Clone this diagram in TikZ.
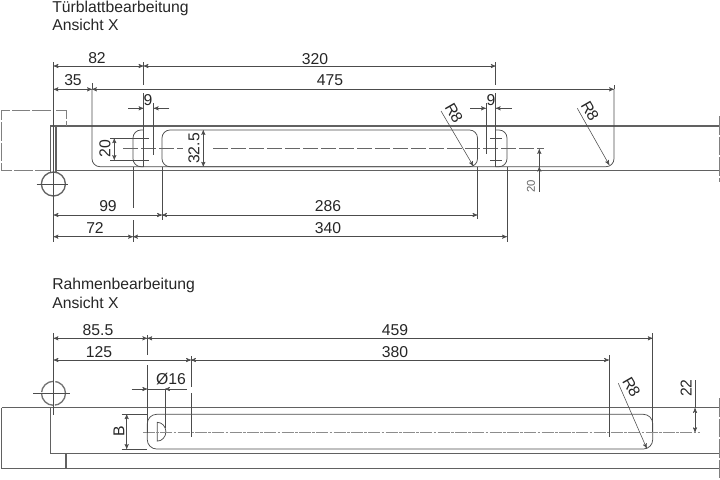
\documentclass[tikz,border=0pt]{standalone}
\usepackage{fontspec}
\setmainfont{Liberation Sans}
\usepackage{tikz}
\usetikzlibrary{arrows}
\definecolor{linegrey}{gray}{0.3}
\tikzset{every node/.style={inner sep=0pt,text=black!85,font=\fontsize{11.8}{14}\selectfont}}
\tikzset{body/.style={draw=black!62,line width=0.8pt}}
\tikzset{pocket/.style={draw=linegrey,line width=0.55pt}}
\tikzset{thin line/.style={draw=linegrey,line width=0.42pt}}
\tikzset{measure/.style={<->,thin line}}
\tikzset{pointer/.style={->,thin line}}
\tikzset{hidden/.style={draw=black!50,line width=0.75pt,dash pattern=on 14pt off 1.5pt}}
\tikzset{axis/.style={draw=black!60,line width=0.5pt,dash pattern=on 11pt off 2.5pt}}
\tikzset{centre/.style={draw=black!45,line width=0.7pt,dash pattern=on 9pt off 1pt on 2pt off 1pt}}
\begin{document}
\begin{tikzpicture}[>=stealth',x=0.75pt,y=-0.75pt]
  \useasboundingbox (0,0) rectangle (720,479);

  % titles
  \node[anchor=base west] (TitleDoor)  at (52,12)    {Türblattbearbeitung};
  \node[anchor=base west] (ViewDoor)   at (52,30.5)  {Ansicht X};
  \node[anchor=base west] (TitleFrame) at (52,289.5) {Rahmenbearbeitung};
  \node[anchor=base west] (ViewFrame)  at (52,308.5) {Ansicht X};

  % door leaf
  \draw[body] (56,126) -- (720,126);
  \draw[body] (56,170.7) -- (720,170.7);
  \draw[pocket,rounded corners=6pt] (92,89) -- (92,166.7) -- (614,166.7) -- (614,89);
  \draw[pocket,rounded corners=6pt] (143.5,130) -- (133,130) -- (133,166.7) -- (143.5,166.7);
  \draw[pocket,rounded corners=6pt] (162,130) -- (477.5,130) -- (477.5,166.7) -- (162,166.7) -- cycle;
  \draw[pocket,rounded corners=6pt] (495.7,130) -- (507,130) -- (507,166.7) -- (495.7,166.7);
  \draw[hidden] (56,110) -- (66,110) -- (66,126);
  \draw[hidden] (51,110) -- (1,110) -- (1,170.7) -- (51,170.7);
  \draw[hidden] (719.5,116) -- (719.5,182);
  \draw[body] (50.7,172) -- (50.7,126) -- (56,126) -- (56,172);
  \draw[draw=black!62,line width=1pt] (53.4,184) circle (12);
  \draw[thin line] (36.5,184) -- (68,184);

  % door leaf centre lines
  \draw[axis] (123,148.7) -- (183,148.7);
  \draw[axis] (213,148.7) -- (544,148.7);
  \draw[thin line] (110,138.3) -- (149,138.3);
  \draw[thin line] (110,160) -- (149,160);
  \draw[thin line] (490,138.3) -- (501.7,138.3);
  \draw[thin line] (490,160) -- (501.7,160);

  % door leaf extension lines
  \draw[thin line] (53.5,62) -- (53.5,241.7);
  \draw[thin line] (143.5,62) -- (143.5,85);
  \draw[thin line] (143.5,93) -- (143.5,166.7);
  \draw[thin line] (495.7,62) -- (495.7,85);
  \draw[thin line] (495.7,93) -- (495.7,166.7);
  \draw[thin line] (92,83) -- (92,89);
  \draw[thin line] (614,85) -- (614,89);
  \draw[thin line] (153.7,103) -- (153.7,155);
  \draw[thin line] (486,103) -- (486,154);
  \draw[thin line] (133,166.7) -- (133,208);
  \draw[thin line] (133,220) -- (133,241.7);
  \draw[thin line] (162,166.7) -- (162,220);
  \draw[thin line] (477.5,166.7) -- (477.5,219);
  \draw[thin line] (507,166.7) -- (507,241.7);

  % door leaf dimensions
  \path (53.5,66) edge [measure] (143.5,66)
        (143.5,66) edge [measure] (495.7,66)
        (53.5,89.3) edge [measure] (92,89.3)
        (92,89.3) edge [measure] (614,89.3)
        (53.5,215) edge [measure] (162,215)
        (162,215) edge [measure] (477.5,215)
        (53.5,236.7) edge [measure] (133,236.7)
        (133,236.7) edge [measure] (507,236.7)
        (114.3,138.3) edge [measure] (114.3,160)
        (203.3,130) edge [measure] (203.3,166.7);
  \path (128.3,108.3) edge [pointer] (143.5,108.3)
        (169.3,108.3) edge [pointer] (153.7,108.3)
        (470,108.3) edge [pointer] (486,108.3)
        (511.7,108.3) edge [pointer] (495.7,108.3)
        (441,111) edge [pointer] (473.3,166)
        (577.3,108.3) edge [pointer] (609.3,165)
        (539.3,166.7) edge [pointer] (539.3,149)
        (539.3,191.7) edge [pointer] (539.3,166.7);

  \node (DimA) at (97,58)   {82};
  \node (DimB) at (315,59.5) {320};
  \node (DimC) at (73,80)   {35};
  \node (DimD) at (330,80)  {475};
  \node (DimE) at (148,100.5) {9};
  \node (DimF) at (491,100.5) {9};
  \node (DimG) at (108,206) {99};
  \node (DimH) at (328,206) {286};
  \node (DimI) at (95,228)  {72};
  \node (DimJ) at (328,228) {340};
  \node[rotate=90] (DimK) at (105,148.5) {20};
  \node[rotate=90] (DimL) at (194,148.5) {32.5};
  \node[rotate=-60] (DimM) at (454,113) {R8};
  \node[rotate=-60] (DimN) at (590,111) {R8};
  \node[rotate=90,text=black!60,font=\fontsize{8.5}{10}\selectfont] (DimO) at (531,186) {20};

  % frame
  \draw[body] (1.5,407.7) -- (720,407.7);
  \draw[body] (1.5,407.7) -- (1.5,468.3) -- (720,468.3);
  \draw[body] (50.7,407.7) -- (50.7,453.3) -- (720,453.3);
  \draw[body] (66,453.3) -- (66,468.3);
  \draw[pocket,rounded corners=7pt] (147.3,414.3) rectangle (652.7,449);
  \draw[hidden] (719.5,398) -- (719.5,478);
  \draw[draw=black!55,line width=1pt,dash pattern=on 13pt off 1.5pt] (53.5,393.3) circle (12);
  \draw[thin line] (33,393.3) -- (70,393.3);
  \draw[pocket] (157.3,441.1) arc (90:-90:8.6 and 9.4) -- cycle;
  \draw[centre] (143,432.3) -- (700,432.3);

  % frame extension lines
  \draw[thin line] (53.5,333) -- (53.5,415);
  \draw[thin line] (147.3,335) -- (147.3,355);
  \draw[thin line] (147.3,365) -- (147.3,433);
  \draw[thin line] (191,356) -- (191,387);
  \draw[thin line] (191,393) -- (191,437);
  \draw[thin line] (609,355) -- (609,437);
  \draw[thin line] (652.7,333) -- (652.7,432);
  \draw[thin line] (165,389) -- (165,428);
  \draw[thin line] (121.7,414.3) -- (147.3,414.3);
  \draw[thin line] (121.7,449) -- (147.3,449);
  \draw[thin line] (695,380) -- (695,408);

  % frame dimensions
  \path (53.5,338.3) edge [measure] (147.3,338.3)
        (147.3,338.3) edge [measure] (652.7,338.3)
        (53.5,360) edge [measure] (191,360)
        (191,360) edge [measure] (609,360)
        (126.7,414.3) edge [measure] (126.7,449)
        (695,408) edge [measure] (695,432.3);
  \path (131.7,389) edge [pointer] (147.3,389)
        (186.7,389) edge [pointer] (165,389)
        (147.3,389) edge [thin line] (165,389)
        (618.3,383.3) edge [pointer] (646.7,448.3);

  \node (DimP) at (98,330)   {85.5};
  \node (DimQ) at (395,330)  {459};
  \node (DimR) at (99,352)   {125};
  \node (DimS) at (395,352)  {380};
  \node (DimT) at (171,379)  {Ø16};
  \node[rotate=90] (DimU) at (119,431) {B};
  \node[rotate=90] (DimV) at (686,388) {22};
  \node[rotate=-60] (DimW) at (631.5,387) {R8};
\end{tikzpicture}
\end{document}
